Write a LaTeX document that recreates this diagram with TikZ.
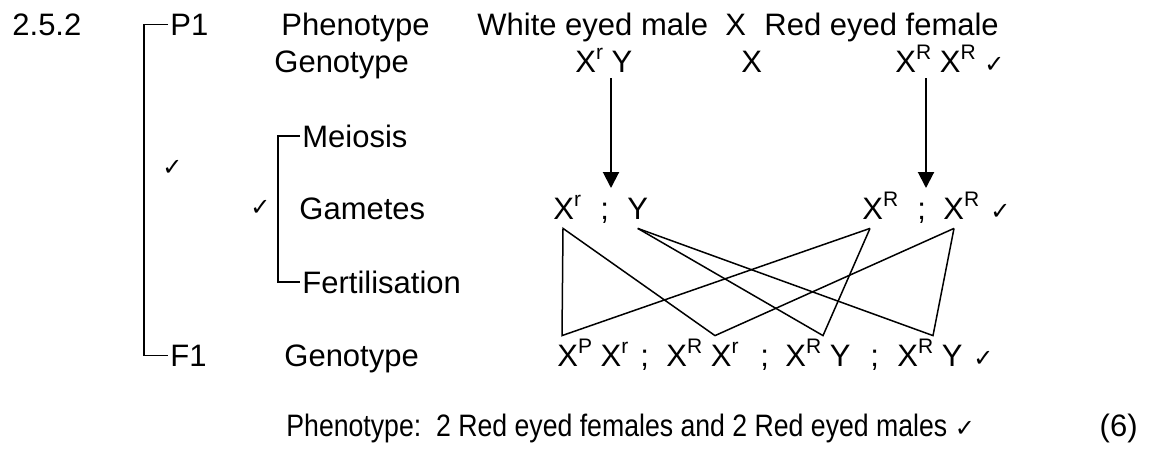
\documentclass[tikz,border=0pt]{standalone}
\usepackage{fontspec}
\setmainfont{Liberation Sans}
\newfontfamily\narrowfont{Liberation Sans}[FakeStretch=0.86]
\newfontfamily\tickfont{DejaVu Sans}
\newcommand{\tck}{{\tickfont\fontsize{12}{12}\selectfont\char"2713}}
\newcommand{\up}[1]{\raisebox{6.5pt}{\fontsize{10.5}{11}\selectfont #1}}
\usetikzlibrary{arrows.meta}

\begin{document}
\begin{tikzpicture}[x=0.5pt, y=-0.5pt,
    txt/.style={anchor=base west, inner xsep=1pt, inner ysep=3pt, font=\fontsize{15.5}{18}\selectfont},
    gam/.style={txt, inner xsep=0pt, inner ysep=4.5pt},
    off/.style={txt, inner xsep=0pt, inner ysep=1pt, text height=14pt, text depth=0pt},
    brk/.style={line width=0.8pt},
    cross/.style={line width=0.75pt},
    down/.style={line width=1pt, -{Triangle[length=8pt, width=8pt]}}]
  \useasboundingbox (0,0) rectangle (1151,450);
  % parents
  \node[txt] (num)    at (10,35)  {2.5.2};
  \node[txt] (p1)     at (168,35) {P1};
  \node[txt] (phen)   at (279,35) {Phenotype};
  \node[txt] (male)   at (475,35) {White eyed male};
  \node[txt] (cross)  at (723,35) {X};
  \node[txt] (female) at (762,35) {Red eyed female};
  \node[txt] (geno)   at (272,72) {Genotype};
  \node[txt] (malegt) at (573,72) {X\up{r} Y};
  \node[txt] (cross2) at (739,72) {X};
  \node[txt] (femgt)  at (893,72) {X\up{R} X\up{R} \tck};
  % meiosis and gametes
  \node[txt] (tkA)  at (160,175) {\tck};
  \node[txt] (tkB)  at (248,215) {\tck};
  \node[txt] (meio) at (300,147) {Meiosis};
  \node[txt] (game) at (297,219) {Gametes};
  \node[txt] (fert) at (300,293) {Fertilisation};
  \node[gam] (gXr)  at (553,219) {X\up{r}};
  \node[gam] (sc1)  at (600,219) {;};
  \node[gam] (gY)   at (627,219) {Y};
  \node[gam] (gR1)  at (862,219) {X\up{R}};
  \node[gam] (sc2)  at (917,219) {;};
  \node[gam] (gR2)  at (943,219) {X\up{R}};
  \node[gam] (tkC)  at (990,219) {\tck};
  % offspring
  \node[txt] (f1)    at (168,366) {F1};
  \node[txt] (fgeno) at (282,366) {Genotype};
  \node[off] (o1)    at (557,366) {X\up{P} X\up{r}};
  \node[off] (sc3)   at (640,366) {;};
  \node[off] (o2)    at (666,366) {X\up{R} X\up{r}};
  \node[off] (sc4)   at (760,366) {;};
  \node[off] (o3)    at (785,366) {X\up{R} Y};
  \node[off] (sc5)   at (870,366) {;};
  \node[off] (o4)    at (897,366) {X\up{R} Y};
  \node[off] (tkD)   at (973,366) {\tck};
  \node[txt] (pheno) at (284,436) {\narrowfont Phenotype:\ \ 2 Red eyed females and 2 Red eyed males \tck};
  \node[txt, anchor=base east] (marks) at (1140,436) {(6)};
  % brackets
  \draw[brk] (p1.west) -- ++(-24,0) |- (f1.west);
  \draw[brk] (meio.west) -- ++(-22,0) |- (fert.west);
  % meiosis arrows
  \coordinate (tipL) at (611,188);
  \coordinate (tipR) at (926,188);
  \draw[down] (malegt.south -| tipL) -- (tipL);
  \draw[down] (femgt.south -| tipR) -- (tipR);
  % fertilisation lines
  \coordinate (ft1) at ([xshift=5pt]gXr.south west);
  \coordinate (ft2) at (gY.south);
  \coordinate (ft3) at ([xshift=4pt]gR1.south west);
  \coordinate (ft4) at ([xshift=5.5pt]gR2.south west);
  \coordinate (hd1) at ([xshift=2.5pt]o1.north west);
  \coordinate (hd2) at ([xshift=24.5pt]o2.north west);
  \coordinate (hd3) at ([xshift=19pt]o3.north west);
  \coordinate (hd4) at ([xshift=18pt]o4.north west);
  \draw[cross] (ft3) -- (hd1) -- (ft1) -- (hd2) -- (ft4);
  \draw[cross] (ft2) -- (hd3) -- (ft3);
  \draw[cross] (ft2) -- (hd4) -- (ft4);
\end{tikzpicture}
\end{document}
